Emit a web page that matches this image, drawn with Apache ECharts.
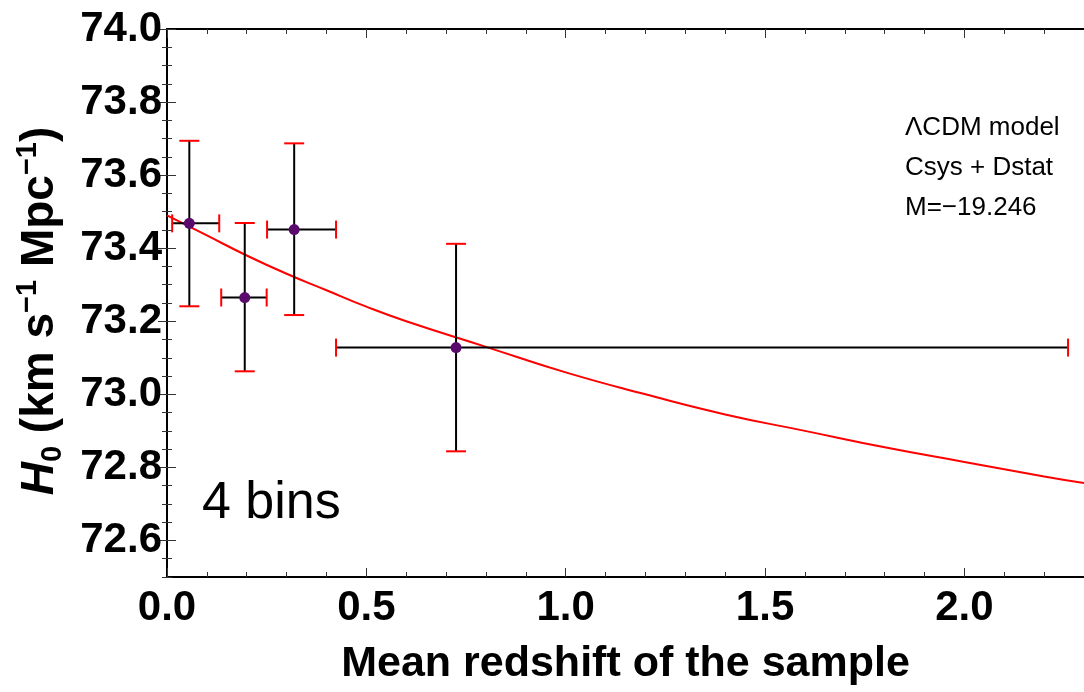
<!DOCTYPE html>
<html>
<head>
  <meta charset="UTF-8">
  <title>H0 vs mean redshift</title>
  <script src="https://cdn.jsdelivr.net/npm/echarts@6/dist/echarts.min.js"></script>
  <style>
    html, body { margin: 0; padding: 0; background: #fff; }
    #main { width: 1084px; height: 692px; }
  </style>
</head>
<body>
  <div id="main"></div>
  <script>
    // binned H0 values (points + error bars)
    var zMean = [0.056, 0.195, 0.319, 0.725];
    var zLow = [0.013, 0.136, 0.251, 0.424];
    var zHigh = [0.131, 0.250, 0.424, 2.260];
    var h0 = [73.468, 73.265, 73.451, 73.128];
    var h0Low = [73.241, 73.063, 73.217, 72.844];
    var h0High = [73.694, 73.469, 73.687, 73.412];

    // fitted curve
    var curveZ = [0, 0.1, 0.2, 0.3, 0.4, 0.5, 0.6, 0.8, 1.0, 1.2, 1.4, 1.6, 1.8, 2.0, 2.2, 2.3];
    var curveH0 = [73.49, 73.435, 73.38, 73.33, 73.285, 73.24, 73.20, 73.13, 73.06, 73.00, 72.945, 72.90, 72.855, 72.815, 72.775, 72.757];

    // axis ticks
    var xMajor = [0, 0.5, 1.0, 1.5, 2.0];
    var yMajor = [72.6, 72.8, 73.0, 73.2, 73.4, 73.6, 73.8, 74.0];
    var notes = ['ΛCDM model', 'Csys + Dstat', 'M=−19.246'];

    var FONT = "'Liberation Sans', Arial, Helvetica, sans-serif";
    var X_MIN = 0, X_MAX = 2.3, Y_MIN = 72.5, Y_MAX = 74.0;
    var gridBox = { left: 167, right: 0, top: 29, bottom: 115 };

    var errData = zMean.map(function (z, i) {
      return [z, h0[i], zLow[i], zHigh[i], h0Low[i], h0High[i]];
    });
    var curveData = curveZ.map(function (z, i) { return [z, curveH0[i]]; });
    var pointData = zMean.map(function (z, i) { return [z, h0[i]]; });

    function majorX(pos, labels) {
      return {
        type: 'value', gridIndex: 0, position: pos, min: X_MIN, max: X_MAX,
        axisLine: { show: true, lineStyle: { color: '#000', width: 2 } },
        axisTick: { show: true, inside: true, length: 9, customValues: xMajor, lineStyle: { color: '#333', width: 1 } },
        axisLabel: {
          show: labels, customValues: xMajor, margin: 10,
          fontSize: 42, fontWeight: 'bold', color: '#000', fontFamily: FONT,
          formatter: function (v) { return v.toFixed(1); }
        },
        splitLine: { show: false }
      };
    }
    function minorX(pos) {
      return {
        type: 'value', gridIndex: 1, position: pos, min: X_MIN, max: X_MAX, interval: 0.1,
        axisLine: { show: false },
        axisTick: { show: true, inside: true, length: 5, lineStyle: { color: '#333', width: 1 } },
        axisLabel: { show: false },
        splitLine: { show: false }
      };
    }
    function majorY(pos, labels) {
      return {
        type: 'value', gridIndex: 0, position: pos, min: Y_MIN, max: Y_MAX,
        axisLine: { show: true, lineStyle: { color: '#000', width: 2 } },
        axisTick: { show: true, inside: true, length: 9, customValues: yMajor, lineStyle: { color: '#333', width: 1 } },
        axisLabel: {
          show: labels, customValues: yMajor, margin: 5,
          fontSize: 42, fontWeight: 'bold', color: '#000', fontFamily: FONT,
          formatter: function (v) { return v.toFixed(1); }
        },
        splitLine: { show: false }
      };
    }
    function minorY(pos) {
      return {
        type: 'value', gridIndex: 1, position: pos, min: Y_MIN, max: Y_MAX, interval: 0.05,
        axisLine: { show: false },
        axisTick: { show: true, inside: true, length: 5, lineStyle: { color: '#333', width: 1 } },
        axisLabel: { show: false },
        splitLine: { show: false }
      };
    }

    var xBottom = majorX('bottom', true);
    xBottom.name = 'Mean redshift of the sample';
    xBottom.nameLocation = 'middle';
    xBottom.nameGap = 66;
    xBottom.nameTextStyle = { fontSize: 43, fontWeight: 'bold', color: '#000', fontFamily: FONT };

    var yLeft = majorY('left', true);
    yLeft.name = '{h|H}{sub|0}{t| (km s}{sup|−1}{t| Mpc}{sup|−1}{t|)}';
    yLeft.nameLocation = 'middle';
    yLeft.nameRotate = 90;
    yLeft.nameGap = 100;
    yLeft.nameTextStyle = {
      color: '#000', fontFamily: FONT, padding: [0, 16, 0, 0],
      rich: {
        h: { fontSize: 46, fontWeight: 'bold', fontStyle: 'italic', fontFamily: FONT, color: '#000', lineHeight: 54 },
        t: { fontSize: 46, fontWeight: 'bold', fontFamily: FONT, color: '#000', lineHeight: 54 },
        sub: { fontSize: 29, fontWeight: 'bold', fontFamily: FONT, color: '#000', verticalAlign: 'bottom', lineHeight: 54 },
        sup: { fontSize: 29, fontWeight: 'bold', fontFamily: FONT, color: '#000', verticalAlign: 'top', lineHeight: 29 }
      }
    };

    var myChart = echarts.init(document.getElementById('main'), null, { renderer: 'canvas' });
    var option = {
      backgroundColor: '#fff',
      animation: false,
      grid: [
        Object.assign({ containLabel: false }, gridBox),
        Object.assign({ containLabel: false }, gridBox)
      ],
      xAxis: [xBottom, majorX('top', false), minorX('bottom'), minorX('top')],
      yAxis: [yLeft, majorY('right', false), minorY('left'), minorY('right')],
      graphic: [
        {
          type: 'text', left: 202, top: 478,
          style: { text: '4 bins', font: '52px ' + FONT, fill: '#000' }
        },
        {
          type: 'text', left: 905, top: 108,
          style: { text: notes.join('\n'), font: '26px ' + FONT, fill: '#000', lineHeight: 40 }
        }
      ],
      series: [
        {
          name: 'fit', type: 'line', xAxisIndex: 0, yAxisIndex: 0,
          data: curveData, smooth: true, showSymbol: false,
          lineStyle: { color: '#ff0000', width: 2 }, z: 2
        },
        {
          name: 'errors', type: 'custom', xAxisIndex: 0, yAxisIndex: 0,
          data: errData, z: 3,
          renderItem: function (params, api) {
            var c = api.coord([api.value(0), api.value(1)]);
            var l = api.coord([api.value(2), api.value(1)]);
            var r = api.coord([api.value(3), api.value(1)]);
            var b = api.coord([api.value(0), api.value(4)]);
            var t = api.coord([api.value(0), api.value(5)]);
            var black = { stroke: '#000', lineWidth: 2 };
            var red = { stroke: '#ff0000', lineWidth: 2 };
            return {
              type: 'group',
              children: [
                { type: 'line', shape: { x1: l[0], y1: c[1], x2: r[0], y2: c[1] }, style: black },
                { type: 'line', shape: { x1: c[0], y1: t[1], x2: c[0], y2: b[1] }, style: black },
                { type: 'line', shape: { x1: l[0], y1: c[1] - 9, x2: l[0], y2: c[1] + 9 }, style: red },
                { type: 'line', shape: { x1: r[0], y1: c[1] - 9, x2: r[0], y2: c[1] + 9 }, style: red },
                { type: 'line', shape: { x1: c[0] - 10, y1: t[1], x2: c[0] + 10, y2: t[1] }, style: red },
                { type: 'line', shape: { x1: c[0] - 10, y1: b[1], x2: c[0] + 10, y2: b[1] }, style: red }
              ]
            };
          }
        },
        {
          name: 'bins', type: 'scatter', xAxisIndex: 0, yAxisIndex: 0,
          data: pointData, symbolSize: 11, z: 4,
          itemStyle: { color: '#5a0a6c', opacity: 1 }
        }
      ]
    };
    myChart.setOption(option);
  </script>
</body>
</html>
